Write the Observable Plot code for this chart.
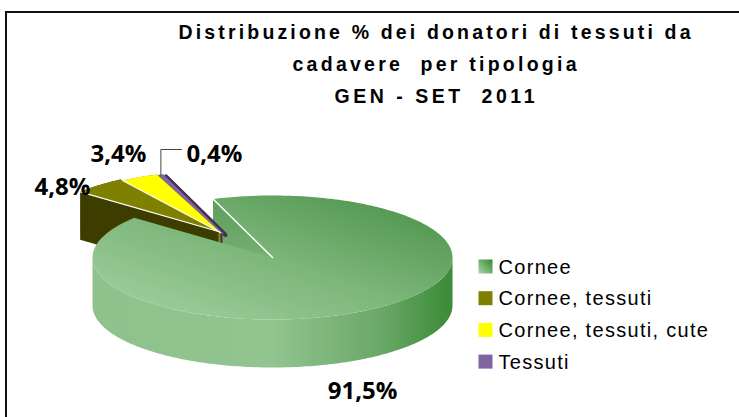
<!DOCTYPE html>
<html><head><meta charset="utf-8">
<script src="https://cdn.jsdelivr.net/npm/d3@7"></script>
<script src="https://cdn.jsdelivr.net/npm/@observablehq/plot@0.6"></script>
<style>
html,body{margin:0;padding:0;background:#fff;}
#wrap{position:relative;width:739px;height:417px;overflow:hidden;}
#frame{position:absolute;left:5px;top:11px;width:800px;height:500px;border-left:2px solid #111;border-top:2px solid #111;pointer-events:none;}
</style></head><body><div id="wrap"></div>
<script>
// ---- data ----
const categories = ["Cornee", "Cornee, tessuti", "Cornee, tessuti, cute", "Tessuti"];
const shares = [91.5, 4.8, 3.4, 0.4];
const shareLabels = ["91,5%", "4,8%", "3,4%", "0,4%"];
const titleLines = ["Distribuzione % dei donatori di tessuti da", "cadavere  per tipologia", "GEN - SET  2011"];

// ---- styles / layout ----
const topFill = ["url(#gTop)", "#808000", "#ffff00", "#8064a2"];
const sideFill = ["url(#gSide)", "#3d3d00", "#8a8a00", "#3f3151"];
const legendFill = ["url(#gLeg)", "#808000", "#ffff00", "#8064a2"];
const pie = {cx: 272, cy: 257, rx: 180, ry: 62, depth: 48, startAngle: 340.7};
const explode = [[0, 0], [-54, -26], [-52, -25], [-50, -24]];
const labelAt = [[362, 398], [62, 194], [118, 161], [214, 161]];
const leader = {y: 149, x2: 181};
const legend = {x: 485, y0: 266, step: 31.7, textX: 498, spacing: 1.3};
const title = {x: 434, y0: 38, step: 32, widths: [512, 284, 200]};

const total = d3.sum(shares);
let acc = 0;
const slices = shares.map((v, i) => {
  const a0 = pie.startAngle + 360 * acc / total;
  acc += v;
  const a1 = pie.startAngle + 360 * acc / total;
  return {i, a0, a1, c: {x: pie.cx + explode[i][0], y: pie.cy + explode[i][1]}};
});
function P(c, a, dz = 0) {
  const t = a * Math.PI / 180;
  return {x: c.x + pie.rx * Math.sin(t), y: c.y - pie.ry * Math.cos(t) + dz};
}
function arc(c, a0, a1, dz = 0) {
  const n = Math.max(2, Math.ceil(Math.abs(a1 - a0)));
  return d3.range(n + 1).map(k => P(c, a0 + (a1 - a0) * k / n, dz));
}
const close = pts => [...pts, pts[0]];
const topPoly = s => close([{x: s.c.x, y: s.c.y}, ...arc(s.c, s.a0, s.a1)]);
const poly = (pts, opts) => Plot.line(pts, {x: "x", y: "y", curve: "linear", stroke: "none", ...opts});

const marks = [];
// big slice: cut face + front wall
const g = slices[0];
marks.push(poly(close([{x: g.c.x, y: g.c.y}, P(g.c, g.a0), P(g.c, g.a0, pie.depth), {x: g.c.x, y: g.c.y + pie.depth}]), {fill: "url(#gCut)"}));
for (let k = -1; k <= 2; k++) {
  const lo = Math.max(g.a0, 90 + 360 * k), hi = Math.min(g.a1, 270 + 360 * k);
  if (hi > lo) marks.push(poly(close([...arc(g.c, lo, hi), ...arc(g.c, hi, lo, pie.depth)]), {fill: "url(#gSide)"}));
}
// small exploded slices, back to front
for (const s of slices.slice(1).reverse()) {
  const top = topPoly(s);
  const hull = d3.polygonHull(top.map(p => [p.x, p.y]).concat(top.map(p => [p.x, p.y + pie.depth])));
  marks.push(poly(close(hull.map(([x, y]) => ({x, y}))), {fill: sideFill[s.i]}));
  if (s.i === 3) {
    marks.push(Plot.line([{x: s.c.x, y: s.c.y}, P(s.c, s.a1)], {x: "x", y: "y", stroke: sideFill[3], strokeWidth: 4, dx: 3, dy: 1.5}));
  }
  marks.push(poly(top, {fill: topFill[s.i], stroke: s.i === 3 ? topFill[3] : "none", strokeWidth: 1.5}));
}
for (const s of slices.slice(1, 3)) {
  marks.push(Plot.line([{x: s.c.x, y: s.c.y}, P(s.c, s.a0)], {x: "x", y: "y", stroke: "white", strokeWidth: 1.3}));
}
// big slice top
marks.push(poly(topPoly(g), {fill: "url(#gTop)"}));
marks.push(Plot.line([{x: g.c.x, y: g.c.y}, P(g.c, g.a0)], {x: "x", y: "y", stroke: "white", strokeWidth: 1.5}));

// leader line for smallest slice
const ps = slices[3];
const lp = P(ps.c, (ps.a0 + ps.a1) / 2);
marks.push(Plot.line([lp, {x: lp.x, y: leader.y}, {x: leader.x2, y: leader.y}], {x: "x", y: "y", stroke: "#444", strokeWidth: 1}));

// data labels
const labelRows = shareLabels.map((t, i) => ({t, x: labelAt[i][0], y: labelAt[i][1]}));
marks.push(Plot.text(labelRows, {x: "x", y: "y", text: "t", fontFamily: "Open Sans", fontWeight: "bold", fontSize: 24, fill: "#000", textAnchor: "middle", lineAnchor: "bottom"}));

// title
const titleRows = titleLines.map((t, i) => ({t, y: title.y0 + i * title.step}));
marks.push(Plot.text(titleRows, {x: () => title.x, y: "y", text: "t", fontFamily: "Liberation Sans", fontWeight: "bold", fontSize: 19.5, fill: "#000", textAnchor: "middle", lineAnchor: "bottom"}));

// legend
const legendRows = categories.map((c, i) => ({c, fill: legendFill[i], y: legend.y0 + i * legend.step}));
marks.push(Plot.dot(legendRows, {x: () => legend.x, y: "y", symbol: "square", r: 7.9, fill: "fill", stroke: "none"}));
marks.push(Plot.text(legendRows, {x: () => legend.textX, y: d => d.y + 7, text: "c", fontFamily: "Liberation Sans", fontSize: 20, fill: "#000", textAnchor: "start", lineAnchor: "bottom"}));

const svg = Plot.plot({
  width: 739, height: 417, margin: 0,
  x: {domain: [0, 739], range: [0, 739], axis: null},
  y: {domain: [0, 417], range: [0, 417], axis: null},
  color: {type: "identity"},
  marks
});
const defs = document.createElementNS("http://www.w3.org/2000/svg", "defs");
defs.innerHTML = `
<linearGradient id="gTop" x1="0" y1="1" x2="1" y2="0">
  <stop offset="0" stop-color="#a6d1a4"/><stop offset="0.5" stop-color="#7cb67a"/><stop offset="1" stop-color="#468f44"/>
</linearGradient>
<linearGradient id="gSide" x1="0" y1="0.5" x2="1" y2="0.5">
  <stop offset="0" stop-color="#8fc18d"/><stop offset="0.5" stop-color="#92c490"/><stop offset="0.8" stop-color="#6aa868"/><stop offset="1" stop-color="#3a8b37"/>
</linearGradient>
<linearGradient id="gCut" x1="0" y1="0" x2="0" y2="1">
  <stop offset="0" stop-color="#5e9c5c"/><stop offset="1" stop-color="#8abd88"/>
</linearGradient>
<linearGradient id="gLeg" x1="0" y1="1" x2="1" y2="0">
  <stop offset="0" stop-color="#aad4a8"/><stop offset="1" stop-color="#2f8a2f"/>
</linearGradient>`;
svg.insertBefore(defs, svg.firstChild);
svg.querySelectorAll("text").forEach(el => {
  const t = el.textContent;
  const ti = titleLines.indexOf(t);
  if (ti >= 0) {
    el.setAttribute("textLength", title.widths[ti]);
    el.setAttribute("lengthAdjust", "spacing");
  }
  if (categories.includes(t)) el.style.letterSpacing = legend.spacing + "px";
});
const wrap = document.getElementById("wrap");
wrap.appendChild(svg);
const frame = document.createElement("div");
frame.id = "frame";
wrap.appendChild(frame);
</script></body></html>
